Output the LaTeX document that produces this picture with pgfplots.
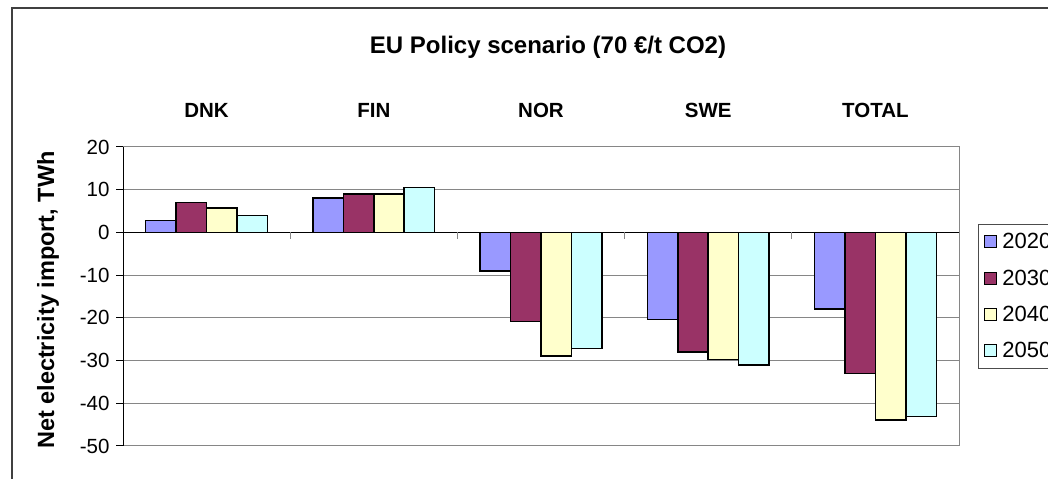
\documentclass[border=0pt]{standalone}
\usepackage{fontspec}
\setmainfont{Liberation Sans}
\usepackage{pgfplots}
\pgfplotsset{compat=1.18}
\definecolor{c2020}{HTML}{9999FF}
\definecolor{c2030}{HTML}{993366}
\definecolor{c2040}{HTML}{FFFFCC}
\definecolor{c2050}{HTML}{CCFFFF}
\definecolor{gridgray}{HTML}{868686}

\begin{document}
\begin{tikzpicture}
\path[use as bounding box, clip] (0,0) rectangle (1048bp,479bp);
\fill[white] (0,0) rectangle (1048bp,479bp);
\draw[line width=2bp, black!75] (12bp,-5bp) -- (12bp,471bp) -- (1060bp,471bp);
\node[font=\fontsize{24bp}{26bp}\selectfont\bfseries] at (548bp,432bp) {EU Policy scenario (70 €/t CO2)};
\begin{axis}[
  at={(123bp,33bp)}, anchor=south west,
  scale only axis, width=836bp, height=299bp,
  ybar=0pt, bar width=0.182,
  xmin=-0.5, xmax=4.5, ymin=-50, ymax=20,
  xtick={0,...,4}, xticklabels={DNK,FIN,NOR,SWE,TOTAL},
  xticklabel pos=upper, major x tick style={draw=none},
  xticklabel style={font=\fontsize{20.5bp}{22bp}\selectfont\bfseries, anchor=base, yshift=22bp},
  ytick={-50,-40,...,20}, ytick pos=left,
  tick align=outside, major tick length=7bp,
  ytick style={black, line width=1bp},
  yticklabel style={font=\fontsize{20.5bp}{22bp}\selectfont, xshift=-3bp},
  /pgf/number format/assume math mode=true,
  ymajorgrids, grid style={gridgray, line width=1bp},
  axis line style={gridgray, line width=1bp},
  ylabel={Net electricity import, TWh},
  every axis y label/.style={at={(rel axis cs:-0.0897,0.488)}, rotate=90, anchor=center,
    font=\fontsize{23.5bp}{25bp}\selectfont\bfseries},
  legend style={at={(1.0227,0.7425)}, anchor=north west, draw=black!70, line width=0.8bp,
    font=\fontsize{22bp}{24bp}\selectfont, row sep=15.5bp, inner xsep=6bp, inner ysep=7bp,
    /tikz/every odd column/.append style={column sep=3bp}},
  legend cell align=left,
  legend image code/.code={\draw[#1, line width=1bp] (0bp,-6bp) rectangle (12bp,6bp);},
]
\addplot[draw=black, line width=1.5bp, fill=c2020] coordinates {(0,2.8) (1,8.1) (2,-9.0) (3,-20.4) (4,-17.9)};
\addplot[draw=black, line width=1.5bp, fill=c2030] coordinates {(0,7.0) (1,9.0) (2,-20.8) (3,-28.0) (4,-33.0)};
\addplot[draw=black, line width=1.5bp, fill=c2040] coordinates {(0,5.7) (1,9.0) (2,-28.9) (3,-29.7) (4,-43.9)};
\addplot[draw=black, line width=1.5bp, fill=c2050] coordinates {(0,4.0) (1,10.5) (2,-27.2) (3,-31.0) (4,-43.1)};
\legend{2020,2030,2040,2050}
\draw[black, line width=1.2bp] (axis cs:-0.5,0) -- (axis cs:4.5,0);
\pgfplotsinvokeforeach{0.5,1.5,2.5,3.5,4.5}{\draw[gridgray, line width=1bp] (axis cs:#1,0) -- ([yshift=-7bp]axis cs:#1,0);}
\draw[black, line width=1bp] (rel axis cs:0,0) -- (rel axis cs:0,1);
\end{axis}
\end{tikzpicture}
\end{document}
